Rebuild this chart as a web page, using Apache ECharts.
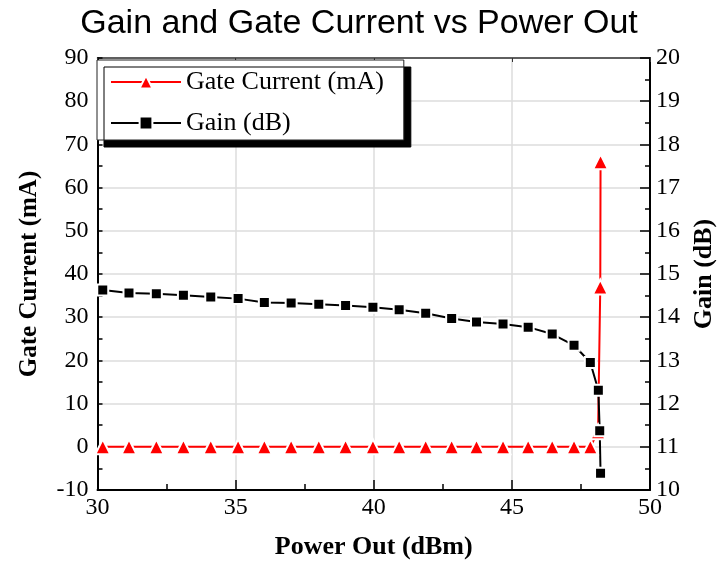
<!DOCTYPE html>
<html>
<head>
<meta charset="UTF-8">
<title>Gain and Gate Current vs Power Out</title>
<script type="text/javascript" src="https://cdn.jsdelivr.net/npm/echarts@6/dist/echarts.min.js"></script>
</head>
<body style="margin:0">
<div id="main" style="width:718px;height:566px"></div>
<script type="text/javascript">
// power out (dBm) for each measured point
var gainPout = [30.19, 31.14, 32.13, 33.11, 34.10, 35.09, 36.04, 37.01, 38.01, 38.98, 39.97,
                40.92, 41.88, 42.82, 43.72, 44.68, 45.59, 46.46, 47.25, 47.84, 48.13, 48.18, 48.21];
var gainDb = [14.63, 14.56, 14.54, 14.51, 14.47, 14.43, 14.34, 14.33, 14.30, 14.27, 14.23,
              14.17, 14.09, 13.97, 13.89, 13.84, 13.77, 13.61, 13.35, 12.95, 12.31, 11.37, 10.39];
var gatePout = [30.19, 31.14, 32.13, 33.11, 34.10, 35.09, 36.04, 37.01, 38.01, 38.98, 39.97,
                40.92, 41.88, 42.82, 43.72, 44.68, 45.59, 46.46, 47.25, 47.84, 48.12, 48.20, 48.21];
var gateMa = [0, 0, 0, 0, 0, 0, 0, 0, 0, 0, 0,
              0, 0, 0, 0, 0, 0, 0, 0, 0, 3.5, 37, 66];

function pairs(xs, ys) {
    var out = [];
    for (var i = 0; i < xs.length; i++) out.push([xs[i], ys[i]]);
    return out;
}

var serif = 'Liberation Serif';
var myEcharts = echarts.init(document.getElementById('main'));

option = {
    backgroundColor: '#fff',
    animation: false,
    title: {
        text: 'Gain and Gate Current vs Power Out',
        left: 'center',
        top: 2,
        textStyle: { fontFamily: 'Liberation Sans', fontSize: 34, fontWeight: 'normal', color: '#000' }
    },
    grid: { left: 97.5, right: 68, top: 58, bottom: 76, outerBoundsMode: 'none' },
    legend: {
        left: 97,
        top: 60,
        orient: 'vertical',
        itemWidth: 70,
        itemHeight: 16,
        itemGap: 13,
        padding: [8, 20, 3, 13],
        backgroundColor: '#fff',
        borderColor: '#222',
        borderWidth: 1,
        shadowColor: '#000',
        shadowBlur: 0,
        shadowOffsetX: 7,
        shadowOffsetY: 7,
        textStyle: { fontFamily: serif, fontSize: 26, lineHeight: 28, color: '#000' },
        data: ['Gate Current (mA)', 'Gain (dB)']
    },
    xAxis: [{
        type: 'value',
        min: 30, max: 50, interval: 5,
        name: 'Power Out (dBm)',
        nameLocation: 'middle',
        nameGap: 44,
        nameTextStyle: { fontFamily: serif, fontSize: 26, fontWeight: 'bold', color: '#000' },
        axisLine: { onZero: false, lineStyle: { color: '#000', width: 2 } },
        axisTick: { inside: true, length: 10, lineStyle: { color: '#000', width: 1.5 } },
        minorTick: { show: true, splitNumber: 2, length: 6, lineStyle: { color: '#000', width: 1.5 } },
        axisLabel: { fontFamily: serif, fontSize: 24, color: '#000', margin: 6 },
        splitLine: { show: true, lineStyle: { color: '#dcdcdc', width: 1.5 } }
    }, {
        type: 'value',
        position: 'top',
        min: 30, max: 50, interval: 5,
        axisLine: { onZero: false, lineStyle: { color: '#333', width: 1.5 } },
        axisTick: { inside: true, length: 4, lineStyle: { color: '#333' } },
        axisLabel: { show: false },
        splitLine: { show: false }
    }],
    yAxis: [{
        type: 'value',
        min: -10, max: 90, interval: 10,
        name: 'Gate Current (mA)',
        nameLocation: 'middle',
        nameGap: 55,
        nameTextStyle: { fontFamily: serif, fontSize: 25, fontWeight: 'bold', color: '#000' },
        axisLine: { show: true, onZero: false, lineStyle: { color: '#000', width: 2 } },
        axisTick: { show: true, inside: true, length: 5, lineStyle: { color: '#000', width: 1.5 } },
        minorTick: { show: true, splitNumber: 2, length: 5, lineStyle: { color: '#000', width: 1.5 } },
        axisLabel: { fontFamily: serif, fontSize: 24, color: '#000', margin: 9 },
        splitLine: { show: true, lineStyle: { color: '#dcdcdc', width: 1.5 } }
    }, {
        type: 'value',
        min: 10, max: 20, interval: 1,
        name: 'Gain (dB)',
        nameLocation: 'middle',
        nameGap: 40,
        nameTextStyle: { fontFamily: serif, fontSize: 26, fontWeight: 'bold', color: '#000' },
        axisLine: { show: true, onZero: false, lineStyle: { color: '#000', width: 2 } },
        axisTick: { show: true, inside: true, length: 10, lineStyle: { color: '#000', width: 1.5 } },
        minorTick: { show: true, splitNumber: 2, length: 5, lineStyle: { color: '#000', width: 1.5 } },
        axisLabel: { fontFamily: serif, fontSize: 24, color: '#000', margin: 6 },
        splitLine: { show: false }
    }],
    series: [{
        name: 'Gate Current (mA)',
        type: 'line',
        xAxisIndex: 0,
        yAxisIndex: 0,
        data: pairs(gatePout, gateMa),
        symbol: 'triangle',
        symbolSize: 15,
        color: '#ff0000',
        lineStyle: { color: '#ff0000', width: 2 },
        itemStyle: { color: '#ff0000', borderColor: '#fff', borderWidth: 2 }
    }, {
        name: 'Gain (dB)',
        type: 'line',
        xAxisIndex: 0,
        yAxisIndex: 1,
        data: pairs(gainPout, gainDb),
        symbol: 'rect',
        symbolSize: 11,
        color: '#000',
        lineStyle: { color: '#000', width: 2 },
        itemStyle: { color: '#000', borderColor: '#fff', borderWidth: 2 }
    }]
};

myEcharts.setOption(option);
</script>
</body>
</html>
